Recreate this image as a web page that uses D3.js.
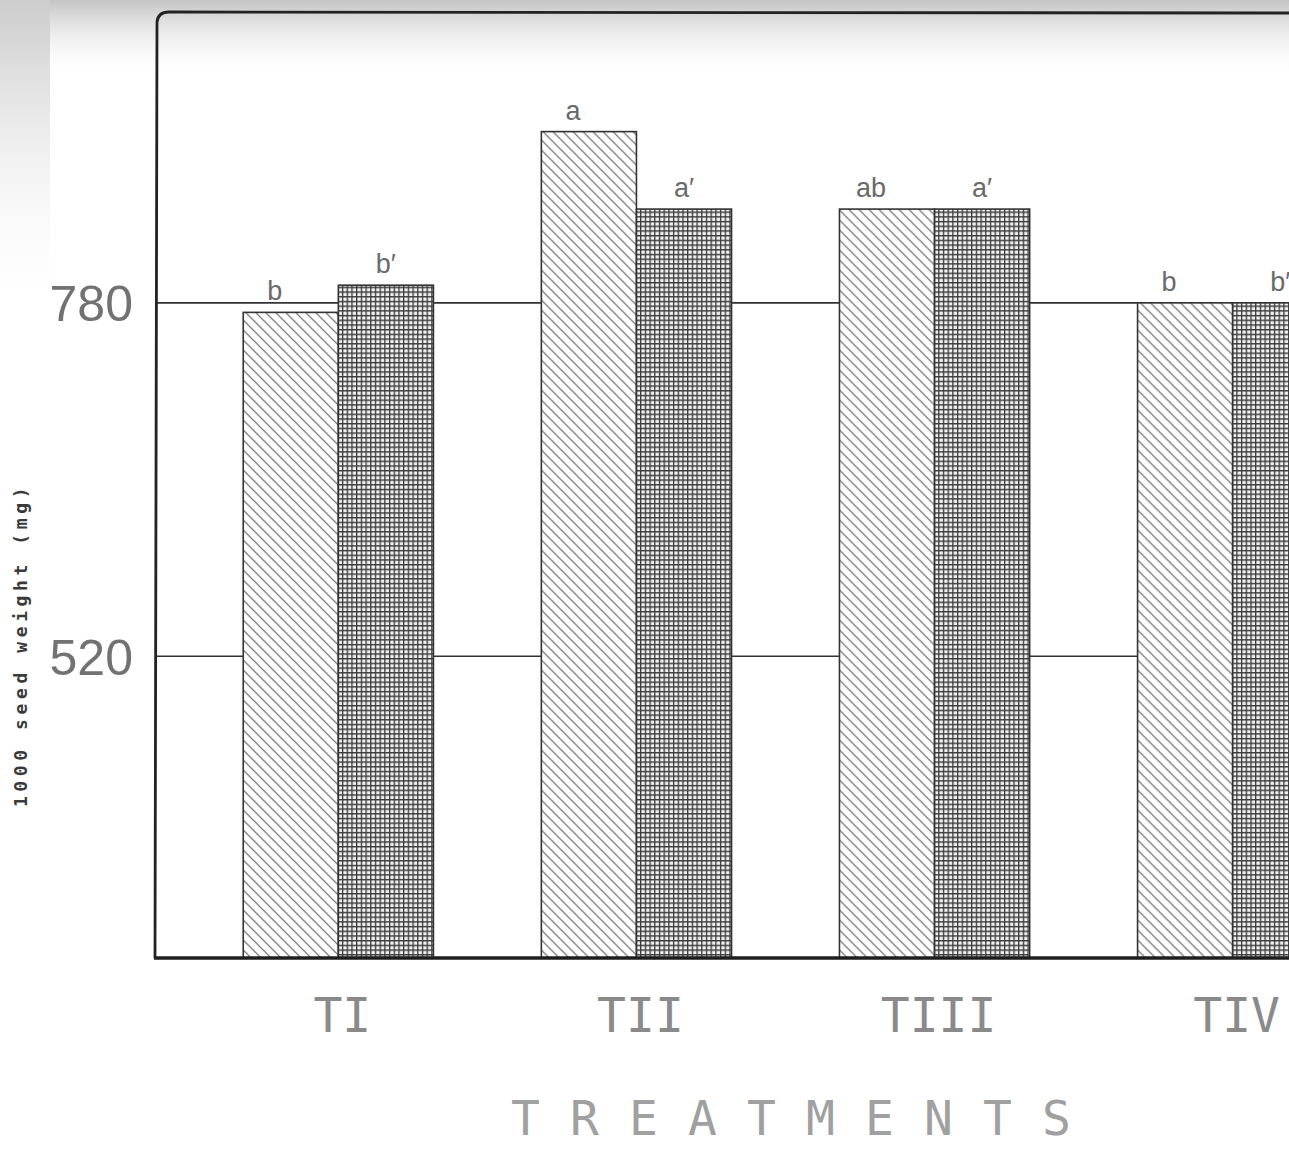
<!DOCTYPE html>
<html>
<head>
<meta charset="utf-8">
<script src="https://cdn.jsdelivr.net/npm/d3@7"></script>
<style>
  html, body { margin: 0; padding: 0; background: #fff; }
  svg { display: block; }
</style>
</head>
<body>
<svg id="chart" width="1289" height="1149"></svg>
<script>
// Treatments and the two measured series (1000 seed weight, mg)
const categories = ["TI", "TII", "TIII", "TIV"];
const seriesKeys = ["hatched", "checked"];
const hatchedValues = [773, 906, 849, 780];
const checkedValues = [793, 849, 849, 780];
// Significance letters printed above each bar
const hatchedLetters = ["b", "a", "ab", "b"];
const checkedLetters = ["b\u2032", "a\u2032", "a\u2032", "b\u2032"];
// Labelled y values
const yTickValues = [520, 780];

const W = 1289, H = 1149;
const svg = d3.select("#chart");
const defs = svg.append("defs");

// Diagonal hatching for the first series
const hatch = defs.append("pattern")
  .attr("id", "hatch").attr("patternUnits", "userSpaceOnUse")
  .attr("width", 10).attr("height", 10);
hatch.append("rect").attr("width", 10).attr("height", 10).attr("fill", "#fff");
hatch.append("path")
  .attr("d", "M0,0 L10,10 M-2,8 L2,12 M8,-2 L12,2")
  .attr("stroke", "#666").attr("stroke-width", 1.2);

// Fine grid for the second series
const grid = defs.append("pattern")
  .attr("id", "grid").attr("patternUnits", "userSpaceOnUse")
  .attr("width", 4.7).attr("height", 4.7);
grid.append("rect").attr("width", 4.7).attr("height", 4.7).attr("fill", "#f0f0f0");
grid.append("path")
  .attr("d", "M0.6,0 V4.7 M0,0.6 H4.7")
  .attr("stroke", "#3a3a3a").attr("stroke-width", 1.4);

// Paper shading along the top and left edges
const topShade = defs.append("linearGradient")
  .attr("id", "topShade").attr("x1", 0).attr("y1", 0).attr("x2", 0).attr("y2", 1);
topShade.append("stop").attr("offset", 0).attr("stop-color", "#c4c4c4").attr("stop-opacity", 1);
topShade.append("stop").attr("offset", 1).attr("stop-color", "#ffffff").attr("stop-opacity", 0);
const leftShade = defs.append("linearGradient")
  .attr("id", "leftShade").attr("x1", 0).attr("y1", 0).attr("x2", 0).attr("y2", 1);
leftShade.append("stop").attr("offset", 0).attr("stop-color", "#cdcdcd").attr("stop-opacity", 1);
leftShade.append("stop").attr("offset", 0.35).attr("stop-color", "#e2e2e2").attr("stop-opacity", 0.8);
leftShade.append("stop").attr("offset", 1).attr("stop-color", "#ffffff").attr("stop-opacity", 0);

svg.append("rect").attr("width", W).attr("height", 80).attr("fill", "url(#topShade)");
svg.append("rect").attr("width", 50).attr("height", 320).attr("fill", "url(#leftShade)");

// Scales
const plotLeft = 155, plotTop = 12, plotBottom = 958;
const y = d3.scaleLinear().domain([298, 994]).range([plotBottom, plotTop]);
const x = d3.scaleBand().domain(categories).range([plotLeft, 1416])
  .paddingInner(0.362).paddingOuter(0.296);
const xs = d3.scaleBand().domain(seriesKeys).range([0, x.bandwidth()]);

// Horizontal reference lines (behind bars)
svg.append("g").selectAll("line").data(yTickValues).join("line")
  .attr("x1", plotLeft).attr("x2", W)
  .attr("y1", d => y(d)).attr("y2", d => y(d))
  .attr("stroke", "#333").attr("stroke-width", 1.6);

// Bars
const rows = categories.map((c, i) => ({
  cat: c,
  items: [
    { key: "hatched", value: hatchedValues[i], letter: hatchedLetters[i] },
    { key: "checked", value: checkedValues[i], letter: checkedLetters[i] }
  ]
}));

const groups = svg.append("g").selectAll("g").data(rows).join("g")
  .attr("transform", d => `translate(${x(d.cat)},0)`);

groups.selectAll("rect").data(d => d.items).join("rect")
  .attr("x", d => xs(d.key))
  .attr("y", d => y(d.value))
  .attr("width", xs.bandwidth())
  .attr("height", d => y.range()[0] - y(d.value))
  .attr("fill", d => d.key === "hatched" ? "url(#hatch)" : "url(#grid)")
  .attr("stroke", "#333").attr("stroke-width", 1.6);

// Significance letters
groups.selectAll("text").data(d => d.items).join("text")
  .attr("x", d => xs(d.key) + xs.bandwidth() / 2 + (d.key === "hatched" ? -16 : 0))
  .attr("y", d => y(d.value) - 12)
  .attr("text-anchor", "middle")
  .attr("font-family", "'Liberation Sans', sans-serif")
  .attr("font-size", 27)
  .attr("fill", "#6a6a6a")
  .text(d => d.letter);

// Frame: left axis, top rule with rounded corner, bottom axis
svg.append("path")
  .attr("d", `M${plotLeft},${plotBottom} L${plotLeft + 2},${plotTop + 10} Q${plotLeft + 3},${plotTop} ${plotLeft + 14},${plotTop} L${W},${plotTop + 1}`)
  .attr("fill", "none").attr("stroke", "#222").attr("stroke-width", 2.8);
svg.append("line")
  .attr("x1", plotLeft - 1).attr("x2", W)
  .attr("y1", plotBottom).attr("y2", plotBottom)
  .attr("stroke", "#1e1e1e").attr("stroke-width", 3.6);

// Y tick labels
const yAxis = d3.axisLeft(y).tickValues(yTickValues).tickSize(0).tickPadding(22);
const yG = svg.append("g").attr("transform", `translate(${plotLeft},0)`).call(yAxis);
yG.select(".domain").remove();
yG.selectAll("text")
  .attr("font-family", "'Liberation Sans', sans-serif")
  .attr("font-size", 50)
  .attr("fill", "#727272")
  .attr("dy", "0.36em");

// Category labels
const xAxis = d3.axisBottom(x).tickSize(0).tickPadding(0);
const xG = svg.append("g").attr("transform", `translate(0,${plotBottom})`).call(xAxis);
xG.select(".domain").remove();
xG.selectAll("text")
  .attr("font-family", "'DejaVu Sans Mono', monospace")
  .attr("font-size", 48)
  .attr("fill", "#8a8a8a")
  .attr("dy", 0)
  .attr("y", 74)
  .attr("dx", 4);

// Axis titles
svg.append("text")
  .attr("y", 1135)
  .attr("font-family", "'DejaVu Sans Mono', monospace")
  .attr("font-size", 48)
  .attr("fill", "#a0a0a0")
  .selectAll("tspan").data("TREATMENTS".split("")).join("tspan")
  .attr("x", (d, i) => 511 + i * 59)
  .text(d => d);

svg.append("text")
  .attr("transform", "translate(27,645) rotate(-90)")
  .attr("text-anchor", "middle")
  .attr("font-family", "'DejaVu Sans Mono', monospace")
  .attr("font-weight", "bold")
  .attr("font-size", 18)
  .attr("letter-spacing", 4.6)
  .attr("fill", "#3a3a3a")
  .text("1000 seed weight (mg)");
</script>
</body>
</html>
